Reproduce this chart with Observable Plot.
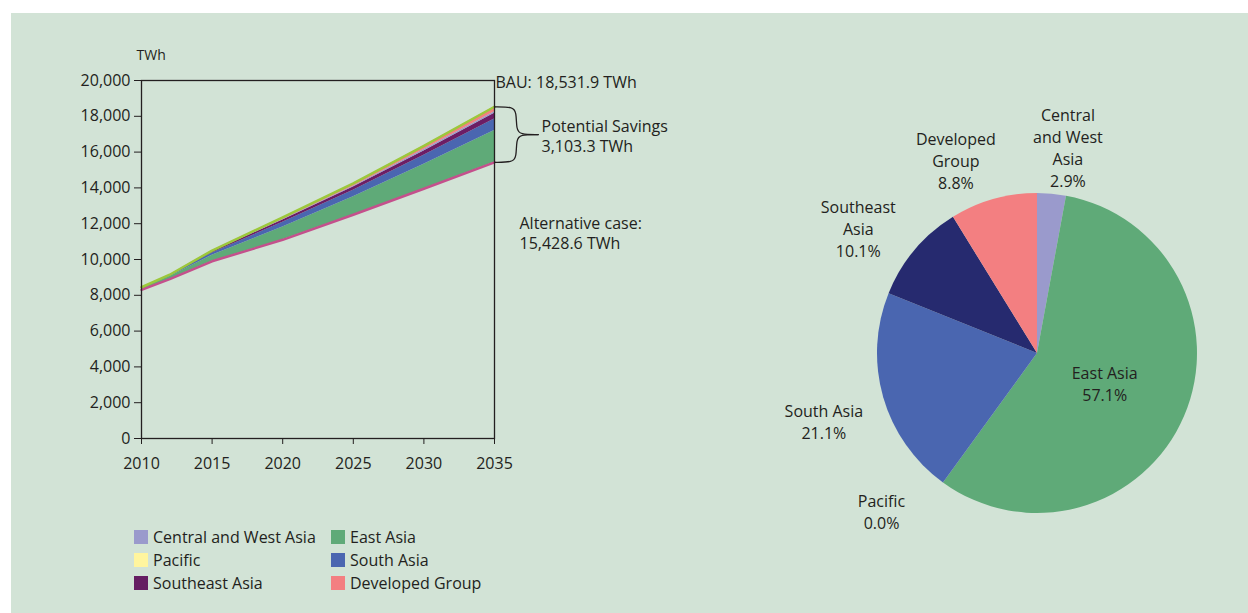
<!DOCTYPE html>
<html><head><meta charset="utf-8">
<script src="https://cdn.jsdelivr.net/npm/d3@7"></script>
<script src="https://cdn.jsdelivr.net/npm/@observablehq/plot@0.6"></script>
<style>
html,body{margin:0;padding:0;background:#fff;width:1248px;height:613px;overflow:hidden;font-family:"Open Sans",sans-serif;color:#231f20}
#panel{position:absolute;left:11px;top:13px;width:1237px;height:600px;background:#d2e3d6}
#area{position:absolute;left:40px;top:40px}
#pie{position:absolute;left:770px;top:90px}
#legend{position:absolute;left:134px;top:525px;display:grid;grid-template-columns:197px auto;grid-auto-rows:23px;font-size:16px;color:#231f20}
#legend .it{display:flex;align-items:center}
#legend .sw{width:14px;height:14px;margin-right:5px;flex:none}
</style>
</head><body>
<div id="panel"></div>
<div id="area"></div>
<div id="pie"></div>
<div id="legend"></div>
<script>
// ---- data ----
const years = [2010, 2012, 2015, 2020, 2025, 2030, 2035];
const bauCase = [8450, 9150, 10500, 12350, 14250, 16350, 18531.9];
const altCase = [8300, 8900, 9900, 11100, 12500, 13950, 15428.6];
const regions = ["Central and West Asia", "East Asia", "Pacific", "South Asia", "Southeast Asia", "Developed Group"];
const centralWestAsia = [5, 5, 20, 35, 50, 75, 90];
const eastAsia = [90, 150, 340, 720, 1000, 1370, 1772];
const pacific = [0, 0, 0, 0, 0, 0, 0];
const southAsia = [30, 50, 130, 260, 370, 505, 655];
const southeastAsia = [15, 25, 60, 125, 175, 240, 313];
const developedGroup = [10, 20, 50, 110, 155, 210, 273];
const shares2035 = [2.9, 57.1, 0.0, 21.1, 10.1, 8.8];
const pieLabelNames = ["Central\nand West\nAsia", "East Asia", "Pacific", "South Asia", "Southeast\nAsia", "Developed\nGroup"];
const yTicks = [0, 2000, 4000, 6000, 8000, 10000, 12000, 14000, 16000, 18000, 20000];
const xTicks = [2010, 2015, 2020, 2025, 2030, 2035];

// ---- styles ----
const areaColors = {"East Asia": "#5faa78", "South Asia": "#4a66b0", "Southeast Asia": "#6c1d65", "Central and West Asia": "#9a9acc", "Developed Group": "#f37f81", "Pacific": "#fff59e"};
const pieColors = {"Central and West Asia": "#9a9acc", "East Asia": "#5faa78", "Pacific": "#fff59e", "South Asia": "#4a66b0", "Southeast Asia": "#262a6f", "Developed Group": "#f37f81"};
const legendColors = {"Central and West Asia": "#9a9acc", "East Asia": "#5faa78", "Pacific": "#fff59e", "South Asia": "#4a66b0", "Southeast Asia": "#651e62", "Developed Group": "#f37f81"};
const stackOrder = ["East Asia", "South Asia", "Southeast Asia", "Central and West Asia", "Developed Group", "Pacific"];
const ink = "#231f20";

const series = {"Central and West Asia": centralWestAsia, "East Asia": eastAsia, "Pacific": pacific, "South Asia": southAsia, "Southeast Asia": southeastAsia, "Developed Group": developedGroup};

// stacked band table on top of alternative case
const bands = [];
years.forEach((yr, i) => {
  let base = altCase[i];
  for (const r of stackOrder) {
    const v = series[r][i];
    bands.push({year: yr, region: r, y1: base, y2: base + v, fill: areaColors[r]});
    base += v;
  }
});
const bauRows = years.map((yr, i) => ({year: yr, v: bauCase[i]}));
const altRows = years.map((yr, i) => ({year: yr, v: altCase[i]}));

const last = years.length - 1;
const bauEnd = bauCase[last], altEnd = altCase[last], endYear = years[last];
const mid = (bauEnd + altEnd) / 2;
const fmt1 = d3.format(",.1f");
// curly brace (annotation) derived from end values
const braceTop = [
  {x: endYear, y: bauEnd}, {x: endYear + 1.3, y: bauEnd}, {x: endYear + 1.55, y: bauEnd - 300},
  {x: endYear + 1.55, y: mid + 300}, {x: endYear + 1.8, y: mid}, {x: endYear + 3.1, y: mid}
];
const braceBot = [
  {x: endYear + 3.1, y: mid}, {x: endYear + 1.8, y: mid}, {x: endYear + 1.55, y: mid - 300},
  {x: endYear + 1.55, y: altEnd + 300}, {x: endYear + 1.3, y: altEnd}, {x: endYear, y: altEnd}
];

const areaChart = Plot.plot({
  width: 660, height: 460,
  marginLeft: 101, marginRight: 206, marginTop: 40, marginBottom: 62,
  style: {background: "transparent", fontFamily: "'Open Sans', sans-serif", fontSize: "16px", color: ink, overflow: "visible"},
  x: {domain: [2010, 2035], ticks: xTicks, tickFormat: d => String(d), tickSize: 6, tickPadding: 13, label: null},
  y: {domain: [0, 20000], ticks: yTicks, tickFormat: d3.format(","), tickSize: 7, tickPadding: 4, label: null},
  marks: [
    Plot.areaY(bands, {x: "year", y1: "y1", y2: "y2", fill: "fill", z: "region"}),
    Plot.line(altRows, {x: "year", y: "v", stroke: "#c4508c", strokeWidth: 2.5}),
    Plot.line(bauRows, {x: "year", y: "v", stroke: "#9cc83b", strokeWidth: 2.5}),
    Plot.frame({stroke: ink, strokeWidth: 1.3}),
    Plot.line(braceTop, {x: "x", y: "y", curve: "basis", stroke: ink, strokeWidth: 1.3}),
    Plot.line(braceBot, {x: "x", y: "y", curve: "basis", stroke: ink, strokeWidth: 1.3}),
    Plot.text([{x: endYear, y: bauEnd, t: `BAU: ${fmt1(bauEnd)} TWh`}], {x: "x", y: "y", text: "t", dx: 1, dy: -24, textAnchor: "start", fill: ink, fontSize: 16}),
    Plot.text([{x: endYear, y: mid, t: `Potential Savings\n${fmt1(bauEnd - altEnd)} TWh`}], {x: "x", y: "y", text: "t", dx: 47, dy: 1, textAnchor: "start", fill: ink, fontSize: 16, lineHeight: 1.25}),
    Plot.text([{x: endYear, y: altEnd, t: `Alternative case:\n${fmt1(altEnd)} TWh`}], {x: "x", y: "y", text: "t", dx: 25, dy: 70, textAnchor: "start", fill: ink, fontSize: 16, lineHeight: 1.3}),
    Plot.text(["TWh"], {frameAnchor: "top-left", text: d => d, dx: -5, dy: -30, textAnchor: "start", fill: ink, fontSize: 14})
  ]
});
document.getElementById("area").appendChild(areaChart);

// ---- pie ----
const pieData = regions.map((r, i) => ({region: r, share: shares2035[i], color: pieColors[r]}));
// label layout (in radius units relative to pie centre)
const labelLayout = {
  "Central and West Asia": [0.19, 1.29],
  "East Asia": [0.42, -0.185],
  "Pacific": [-0.975, -0.985],
  "South Asia": [-1.335, -0.42],
  "Southeast Asia": [-1.12, 0.785],
  "Developed Group": [-0.51, 1.21]
};
const pieLabels = regions.map((r, i) => ({x: labelLayout[r][0], y: labelLayout[r][1], t: `${pieLabelNames[i]}\n${shares2035[i].toFixed(1)}%`}));

function pieSlices(index, scales, values, dimensions) {
  const sx = scales.x, sy = scales.y;
  const cx = sx(0), cy = sy(0), r = sx(1) - sx(0);
  const arcs = d3.pie().sort(null).value(d => d.share)(pieData);
  const arc = d3.arc().innerRadius(0).outerRadius(r);
  const g = d3.create("svg:g").attr("transform", `translate(${cx},${cy})`);
  g.selectAll("path").data(arcs).join("path").attr("d", arc).attr("fill", d => d.data.color);
  return g.node();
}

const pieChart = Plot.plot({
  width: 470, height: 470, margin: 0,
  style: {background: "transparent", fontFamily: "'Open Sans', sans-serif", fontSize: "16px", color: ink, overflow: "visible"},
  x: {domain: [-1.66875, 1.26875], axis: null},
  y: {domain: [-1.29375, 1.64375], axis: null},
  marks: [
    pieSlices,
    Plot.text(pieLabels, {x: "x", y: "y", text: "t", fill: ink, fontSize: 16, lineHeight: 1.37})
  ]
});
document.getElementById("pie").appendChild(pieChart);

// ---- legend ----
const legendOrder = ["Central and West Asia", "East Asia", "Pacific", "South Asia", "Southeast Asia", "Developed Group"];
const lg = document.getElementById("legend");
for (const r of legendOrder) {
  const it = document.createElement("div");
  it.className = "it";
  const sw = document.createElement("span");
  sw.className = "sw";
  sw.style.background = legendColors[r];
  const tx = document.createElement("span");
  tx.textContent = r;
  it.appendChild(sw); it.appendChild(tx);
  lg.appendChild(it);
}
</script>
</body></html>
